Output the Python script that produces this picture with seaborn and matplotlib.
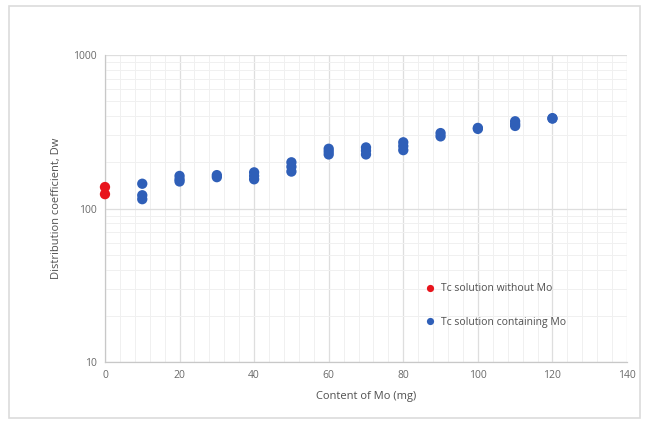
#!/usr/bin/env python3

from matplotlib import pyplot as plt
from matplotlib.patches import Rectangle
from matplotlib.ticker import MultipleLocator, LogLocator, FixedLocator, NullFormatter
import numpy as np
import pandas as pd
import seaborn as sns

# Tc solution without Mo
no_mo_content = [0, 0]
no_mo_dw = [138, 124]

# Tc solution containing Mo
mo_content = [10, 10, 10, 20, 20, 20, 30, 30, 40, 40, 40, 50, 50, 50,
              60, 60, 60, 70, 70, 70, 80, 80, 80, 90, 90, 100, 100,
              110, 110, 110, 120, 120]
mo_dw = [145, 122, 115, 163, 155, 150, 165, 160, 172, 163, 155, 200, 187, 174,
         245, 235, 225, 250, 238, 225, 270, 255, 240, 310, 295, 335, 330,
         370, 355, 345, 388, 385]

labels = ['Tc solution without Mo', 'Tc solution containing Mo']
colors = ['#e8141c', '#2f5fb8']

x_ticks = list(range(0, 141, 20))
y_ticks = [10, 100, 1000]

df = pd.DataFrame({
    'mo': no_mo_content + mo_content,
    'dw': no_mo_dw + mo_dw,
    'series': [labels[0]] * len(no_mo_content) + [labels[1]] * len(mo_content),
})

sns.set_style('white')
plt.rcParams['font.family'] = ['Open Sans', 'DejaVu Sans']

fig, ax = plt.subplots(figsize=(6.46, 4.25), dpi=100)
fig.subplots_adjust(left=0.1625, right=0.9706, top=0.8706, bottom=0.1482)

sns.scatterplot(data=df, x='mo', y='dw', hue='series', palette=colors,
                s=55, edgecolor='none', ax=ax, zorder=3)
for c in ax.collections:
    c.set_clip_on(False)

ax.set_yscale('log')
ax.set_xlim(0, 140)
ax.set_ylim(10, 1000)
ax.set_xticks(x_ticks)
ax.xaxis.set_minor_locator(MultipleLocator(4))
ax.yaxis.set_major_locator(FixedLocator(y_ticks))
ax.set_yticklabels([str(v) for v in y_ticks])
ax.yaxis.set_minor_locator(LogLocator(base=10, subs=np.arange(2, 10)))
ax.yaxis.set_minor_formatter(NullFormatter())

ax.grid(which='major', color='#dedede', linewidth=0.9)
ax.grid(which='minor', color='#f0f0f0', linewidth=0.7)
ax.set_axisbelow(True)

for side in ['top', 'right']:
    ax.spines[side].set_visible(False)
for side in ['left', 'bottom']:
    ax.spines[side].set_color('#c8c8c8')
    ax.spines[side].set_linewidth(0.9)

ax.tick_params(which='both', length=0, labelsize=7.5, labelcolor='#6a6a6a', pad=6)
ax.set_xlabel('Content of Mo (mg)', fontsize=8, color='#505050', labelpad=7)
ax.set_ylabel('Distribution coefficient, Dw', fontsize=8, color='#505050', labelpad=8)

leg = ax.legend(loc='lower left', bbox_to_anchor=(0.585, 0.08), frameon=False,
                fontsize=7.5, labelspacing=2.2, handletextpad=0.0,
                markerscale=0.7)
for t in leg.get_texts():
    t.set_color('#505050')

fig.patches.append(Rectangle((9 / 646, 7 / 425), 631 / 646, 412 / 425,
                             transform=fig.transFigure, fill=False,
                             edgecolor='#dcdcdc', linewidth=1.2))

plt.savefig('out.png', dpi=100)
